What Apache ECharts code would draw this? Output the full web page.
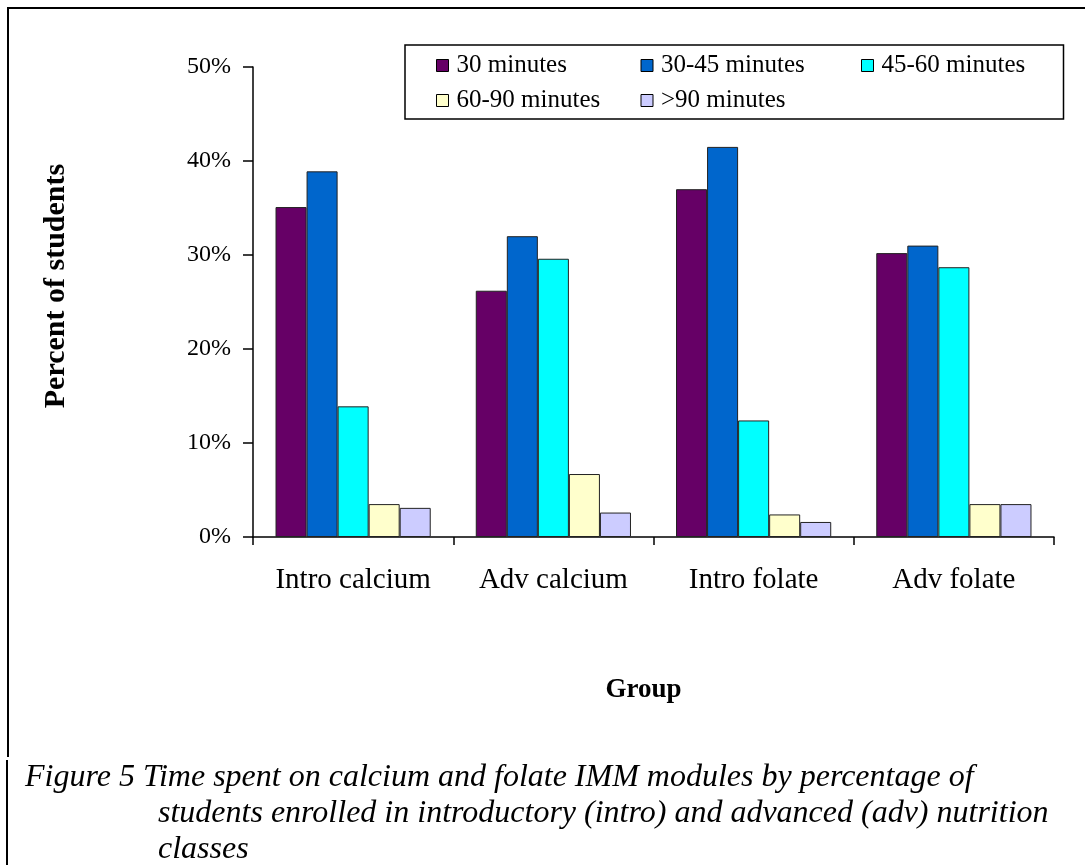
<!DOCTYPE html>
<html>
<head>
<meta charset="utf-8">
<title>Time spent on calcium and folate IMM modules</title>
<script src="https://cdn.jsdelivr.net/npm/echarts@6/dist/echarts.min.js"></script>
<style>
  html, body { margin: 0; padding: 0; background: #fff; }
  #chart { width: 1085px; height: 865px; }
</style>
</head>
<body>
<div id="chart"></div>
<script>
// Groups of students (intro / advanced classes, calcium / folate module)
const groups = ['Intro calcium', 'Adv calcium', 'Intro folate', 'Adv folate'];

// Percent of students in each time band, per group
const min30   = [35.1, 26.2, 37.0, 30.2];
const min3045 = [38.9, 32.0, 41.5, 31.0];
const min4560 = [13.9, 29.6, 12.4, 28.7];
const min6090 = [3.5, 6.7, 2.4, 3.5];
const over90  = [3.1, 2.6, 1.6, 3.5];

const seriesNames = ['30 minutes', '30-45 minutes', '45-60 minutes', '60-90 minutes', '>90 minutes'];
const seriesColors = ['#660066', '#0066CC', '#00FFFF', '#FFFFCC', '#CCCCFF'];
const seriesValues = [min30, min3045, min4560, min6090, over90];

const yTicks = { min: 0, max: 50, step: 10 };

const captionLines = [
  'Figure 5 Time spent on calcium and folate IMM modules by percentage of',
  'students enrolled in introductory (intro) and advanced (adv) nutrition',
  'classes'
];

const serif = 'Liberation Serif, Times New Roman, serif';

// legend columns: text box widths so the two rows line up
const legendTextWidths = [174, 190, 160, 174, 190];

const chart = echarts.init(document.getElementById('chart'), null, { renderer: 'canvas' });

const option = {
  backgroundColor: '#ffffff',
  animation: false,
  textStyle: { fontFamily: serif, color: '#000' },
  grid: { left: 253, top: 67, right: 31, bottom: 328, containLabel: false },
  legend: {
    left: 405,
    top: 45,
    width: 610,
    orient: 'horizontal',
    itemWidth: 12,
    itemHeight: 12,
    itemGap: 10,
    padding: [8, 22, 6, 31],
    borderColor: '#000',
    borderWidth: 1.5,
    icon: 'rect',
    itemStyle: { borderColor: '#000', borderWidth: 1 },
    data: seriesNames.map((n, i) => ({
      name: n,
      textStyle: { width: legendTextWidths[i] }
    })),
    textStyle: { fontFamily: serif, fontSize: 25, color: '#000', lineHeight: 24, padding: [0, 0, 0, 3] },
    selectedMode: false
  },
  xAxis: {
    type: 'category',
    data: groups,
    name: 'Group',
    nameLocation: 'middle',
    nameGap: 140,
    nameTextStyle: { fontFamily: serif, fontSize: 27, fontWeight: 'bold', color: '#000', padding: [0, 20, 0, 0] },
    axisLine: { lineStyle: { color: '#000', width: 1.5 } },
    axisTick: { show: true, interval: 0, length: 8, lineStyle: { color: '#000', width: 1.5 } },
    axisLabel: { interval: 0, fontFamily: serif, fontSize: 29, color: '#000', margin: 29 },
    splitLine: { show: false }
  },
  yAxis: {
    type: 'value',
    min: yTicks.min,
    max: yTicks.max,
    interval: yTicks.step,
    axisLine: { show: true, lineStyle: { color: '#000', width: 1.5 } },
    axisTick: { show: true, length: 10, lineStyle: { color: '#000', width: 1.5 } },
    axisLabel: { fontFamily: serif, fontSize: 24, color: '#000', margin: 22, formatter: '{value}%' },
    splitLine: { show: false }
  },
  series: seriesNames.map((n, i) => ({
    name: n,
    type: 'bar',
    data: seriesValues[i],
    barGap: '0%',
    barCategoryGap: '22.5%',
    itemStyle: { color: seriesColors[i], borderColor: '#222', borderWidth: 1 }
  })),
  graphic: [
    // frame around the figure (top and left edges)
    { type: 'line', shape: { x1: 7, y1: 8, x2: 1085, y2: 8 }, style: { stroke: '#000', lineWidth: 2 } },
    { type: 'line', shape: { x1: 8, y1: 8, x2: 8, y2: 757 }, style: { stroke: '#000', lineWidth: 2 } },
    { type: 'line', shape: { x1: 7, y1: 760, x2: 7, y2: 865 }, style: { stroke: '#000', lineWidth: 2 } },
    // y-axis title
    {
      type: 'text', x: 56, y: 286, rotation: Math.PI / 2,
      style: {
        text: 'Percent of students', font: 'bold 30px ' + serif, fill: '#000',
        align: 'center', verticalAlign: 'middle'
      }
    },
    // caption
    {
      type: 'text', left: 25, top: 762,
      style: { text: captionLines[0], font: 'italic 32px ' + serif, fill: '#000' }
    },
    {
      type: 'text', left: 158, top: 798,
      style: { text: captionLines[1], font: 'italic 32px ' + serif, fill: '#000' }
    },
    {
      type: 'text', left: 158, top: 834,
      style: { text: captionLines[2], font: 'italic 32px ' + serif, fill: '#000' }
    }
  ]
};

chart.setOption(option);
</script>
</body>
</html>
